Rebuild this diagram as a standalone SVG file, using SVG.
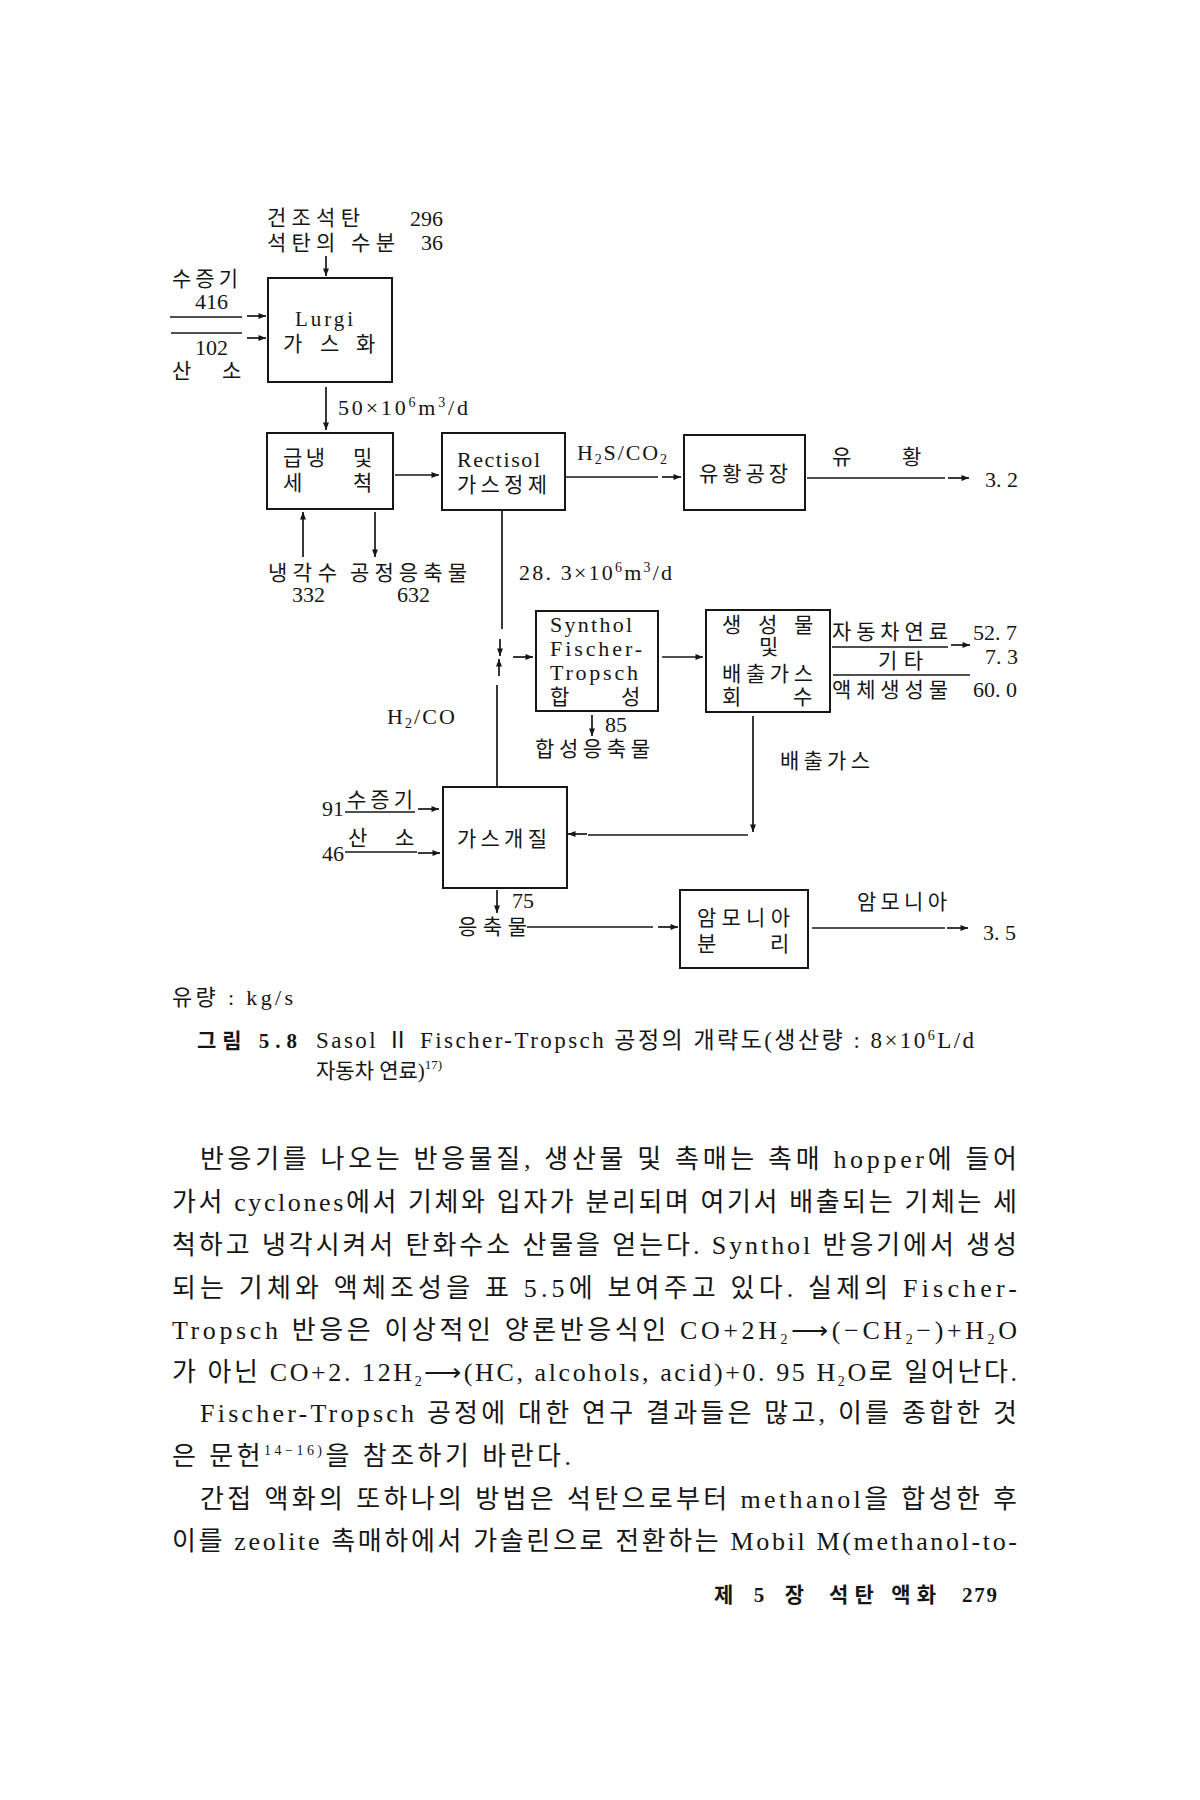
<svg xmlns="http://www.w3.org/2000/svg" width="1200" height="1800" viewBox="0 0 1200 1800">
<defs>
<marker id="ah" viewBox="0 0 10 8" refX="10" refY="4" markerWidth="9" markerHeight="6" orient="auto" markerUnits="userSpaceOnUse">
<path d="M0,0 L10,4 L0,8 z" fill="#161616"/>
</marker>
<style>
text{font-family:"Liberation Serif","Noto Sans CJK KR",serif;fill:#161616;font-size:21px}
.n{font-size:22px}
.sm{font-size:14px}
.p{font-size:26px}
.cap{font-size:23px}
.box{fill:none;stroke:#161616;stroke-width:2}
.ln{fill:none;stroke:#161616;stroke-width:1.7}
.ar{fill:none;stroke:#161616;stroke-width:1.7;marker-end:url(#ah)}
</style>
</defs>
<rect width="1200" height="1800" fill="#ffffff"/>

<g id="inputs-coal">
<text x="267" y="225" textLength="93">건조석탄</text>
<text x="410" y="226" class="n">296</text>
<text x="267" y="250" textLength="128">석탄의 수분</text>
<text x="421" y="250" class="n">36</text>
</g>

<g id="inputs-lurgi">
<text x="172" y="286" textLength="66">수증기</text>
<text x="195" y="309" class="n">416</text>
<text x="195" y="355" class="n">102</text>
<text x="172" y="378">산</text>
<text x="222" y="378">소</text>
</g>

<g id="node-lurgi">
<rect class="box" x="268" y="278" width="124" height="104"/>
<text x="295" y="326" font-size="24" textLength="58">Lurgi</text>
<text x="283" y="351">가</text>
<text x="320" y="351">스</text>
<text x="356" y="351">화</text>
</g>

<g id="node-quench">
<rect class="box" x="267" y="433" width="126" height="76"/>
<text x="283" y="465" textLength="42">급냉</text>
<text x="353" y="465">및</text>
<text x="283" y="490">세</text>
<text x="353" y="490">척</text>
</g>

<g id="node-rectisol">
<rect class="box" x="442" y="433" width="123" height="77"/>
<text x="457" y="467" class="n" textLength="83">Rectisol</text>
<text x="457" y="492" textLength="90">가스정제</text>
</g>

<g id="node-sulfur">
<rect class="box" x="684" y="435" width="121" height="75"/>
<text x="699" y="481" textLength="89">유황공장</text>
</g>

<g id="node-synthol">
<rect class="box" x="536" y="611" width="122" height="100"/>
<text x="550" y="632" class="n" textLength="82">Synthol</text>
<text x="550" y="656" class="n" textLength="92">Fischer-</text>
<text x="550" y="680" class="n" textLength="88">Tropsch</text>
<text x="550" y="704">합</text>
<text x="621" y="704">성</text>
</g>

<g id="node-product">
<rect class="box" x="706" y="610" width="124" height="102"/>
<text x="722" y="632" font-size="19">생</text>
<text x="758" y="632" font-size="19">성</text>
<text x="794" y="632" font-size="19">물</text>
<text x="759" y="654" font-size="17">및</text>
<text x="722" y="681" textLength="91">배출가스</text>
<text x="722" y="704">회</text>
<text x="793" y="704">수</text>
</g>

<g id="node-reform">
<rect class="box" x="443" y="787" width="124" height="101"/>
<text x="457" y="846" textLength="90">가스개질</text>
</g>

<g id="node-ammonia">
<rect class="box" x="680" y="890" width="128" height="78"/>
<text x="697" y="925" textLength="93">암모니아</text>
<text x="697" y="951">분</text>
<text x="770" y="951">리</text>
</g>

<g id="labels">
<text x="338" y="415" class="n" textLength="130">50×10<tspan class="sm" dy="-8">6</tspan><tspan dy="8">m</tspan><tspan class="sm" dy="-8">3</tspan><tspan dy="8">/d</tspan></text>
<text x="577" y="460" class="n" textLength="90">H<tspan class="sm" dy="4">2</tspan><tspan dy="-4">S/CO</tspan><tspan class="sm" dy="4">2</tspan></text>
<text x="832" y="464">유</text>
<text x="902" y="464">황</text>
<text x="985" y="487" class="n">3. 2</text>
<text x="268" y="580" textLength="69">냉각수</text>
<text x="350" y="580" textLength="117">공정응축물</text>
<text x="292" y="602" class="n">332</text>
<text x="397" y="602" class="n">632</text>
<text x="519" y="580" class="n" textLength="153">28. 3×10<tspan class="sm" dy="-8">6</tspan><tspan dy="8">m</tspan><tspan class="sm" dy="-8">3</tspan><tspan dy="8">/d</tspan></text>
<text x="832" y="639" textLength="116">자동차연료</text>
<text x="973" y="640" class="n">52. 7</text>
<text x="878" y="668" textLength="45">기타</text>
<text x="985" y="664" class="n">7. 3</text>
<text x="832" y="697" textLength="116">액체생성물</text>
<text x="973" y="697" class="n">60. 0</text>
<text x="387" y="724" class="n" textLength="68">H<tspan class="sm" dy="4">2</tspan><tspan dy="-4">/CO</tspan></text>
<text x="605" y="732" class="n">85</text>
<text x="535" y="756" textLength="115">합성응축물</text>
<text x="780" y="768" textLength="90">배출가스</text>
<text x="322" y="816" class="n">91</text>
<text x="347" y="807" textLength="66">수증기</text>
<text x="348" y="845">산</text>
<text x="395" y="845">소</text>
<text x="322" y="861" class="n">46</text>
<text x="512" y="908" class="n">75</text>
<text x="458" y="934" textLength="69">응축물</text>
<text x="857" y="909" textLength="90">암모니아</text>
<text x="983" y="940" class="n">3. 5</text>
</g>

<g id="connectors">
<line class="ar" x1="326" y1="256" x2="326" y2="276"/>
<line class="ln" x1="170" y1="317" x2="242" y2="317"/>
<line class="ar" x1="247" y1="316" x2="266" y2="316"/>
<line class="ln" x1="171" y1="333" x2="242" y2="333"/>
<line class="ar" x1="247" y1="338" x2="266" y2="338"/>
<line class="ar" x1="326" y1="387" x2="326" y2="430"/>
<line class="ar" x1="395" y1="475" x2="439" y2="475"/>
<line class="ln" x1="566" y1="477" x2="658" y2="477"/>
<line class="ar" x1="662" y1="477" x2="681" y2="477"/>
<line class="ln" x1="807" y1="478" x2="945" y2="478"/>
<line class="ar" x1="948" y1="478" x2="969" y2="478"/>
<line class="ar" x1="303" y1="557" x2="303" y2="512"/>
<line class="ar" x1="375" y1="512" x2="375" y2="557"/>
<line class="ln" x1="502" y1="511" x2="502" y2="629"/>
<line class="ar" x1="500" y1="639" x2="500" y2="656"/>
<line class="ar" x1="499" y1="676" x2="499" y2="659"/>
<line class="ln" x1="497" y1="685" x2="497" y2="787"/>
<line class="ar" x1="513" y1="657" x2="533" y2="657"/>
<line class="ar" x1="662" y1="657" x2="703" y2="657"/>
<line class="ln" x1="832" y1="647" x2="948" y2="647"/>
<line class="ar" x1="951" y1="645" x2="970" y2="645"/>
<line class="ln" x1="833" y1="675" x2="970" y2="675"/>
<line class="ar" x1="592" y1="715" x2="592" y2="736"/>
<line class="ar" x1="753" y1="716" x2="753" y2="832"/>
<line class="ln" x1="588" y1="835" x2="748" y2="835"/>
<line class="ar" x1="587" y1="834" x2="568" y2="834"/>
<line class="ln" x1="345" y1="812" x2="415" y2="812"/>
<line class="ar" x1="418" y1="809" x2="439" y2="809"/>
<line class="ln" x1="345" y1="852" x2="417" y2="852"/>
<line class="ar" x1="418" y1="853" x2="440" y2="853"/>
<line class="ar" x1="497" y1="890" x2="497" y2="913"/>
<line class="ln" x1="527" y1="927" x2="653" y2="927"/>
<line class="ar" x1="658" y1="927" x2="678" y2="927"/>
<line class="ln" x1="812" y1="928" x2="945" y2="928"/>
<line class="ar" x1="947" y1="928" x2="968" y2="928"/>
</g>

<g id="caption">
<text x="172" y="1005" class="n" textLength="121">유량 : kg/s</text>
<text x="197" y="1048" font-size="24" font-weight="bold" textLength="100">그림 5.8</text>
<text x="316" y="1048" class="cap" textLength="658">Sasol  Ⅱ  Fischer-Tropsch 공정의  개략도(생산량 : 8×10<tspan class="sm" dy="-8">6</tspan><tspan dy="8">L/d</tspan></text>
<text x="316" y="1078" font-size="20">자동차 연료)<tspan font-size="13" dy="-9">17)</tspan></text>
</g>

<g id="body-text">
<text x="200" y="1168" class="p" textLength="817">반응기를 나오는 반응물질, 생산물 및 촉매는 촉매 hopper에 들어</text>
<text x="172" y="1211" class="p" textLength="845">가서 cyclones에서 기체와 입자가 분리되며 여기서 배출되는 기체는 세</text>
<text x="172" y="1254" class="p" textLength="845">척하고 냉각시켜서 탄화수소 산물을 얻는다. Synthol 반응기에서 생성</text>
<text x="172" y="1297" class="p" textLength="845">되는 기체와 액체조성을 표 5.5에 보여주고 있다. 실제의 Fischer-</text>
<text x="172" y="1339" class="p" textLength="845">Tropsch 반응은 이상적인 양론반응식인 CO+2H<tspan class="sm" dy="5">2</tspan><tspan dy="-5">⟶(−CH</tspan><tspan class="sm" dy="5">2</tspan><tspan dy="-5">−)+H</tspan><tspan class="sm" dy="5">2</tspan><tspan dy="-5">O</tspan></text>
<text x="172" y="1381" class="p" textLength="845">가 아닌 CO+2. 12H<tspan class="sm" dy="5">2</tspan><tspan dy="-5">⟶(HC, alcohols, acid)+0. 95 H</tspan><tspan class="sm" dy="5">2</tspan><tspan dy="-5">O로 일어난다.</tspan></text>
<text x="200" y="1422" class="p" textLength="817">Fischer-Tropsch 공정에 대한 연구 결과들은 많고, 이를 종합한 것</text>
<text x="172" y="1465" class="p" textLength="399">은 문헌<tspan class="sm" dy="-10">14−16)</tspan><tspan dy="10">을 참조하기 바란다.</tspan></text>
<text x="200" y="1508" class="p" textLength="817">간접 액화의 또하나의 방법은 석탄으로부터 methanol을 합성한 후</text>
<text x="172" y="1550" class="p" textLength="845">이를 zeolite 촉매하에서 가솔린으로 전환하는 Mobil M(methanol-to-</text>
</g>

<g id="footer">
<text x="714" y="1602" font-size="19" font-weight="bold" textLength="90">제 5 장</text>
<text x="829" y="1602" font-size="19" font-weight="bold" textLength="107">석탄 액화</text>
<text x="962" y="1602" font-size="19" font-weight="bold" textLength="35">279</text>
</g>
</svg>
